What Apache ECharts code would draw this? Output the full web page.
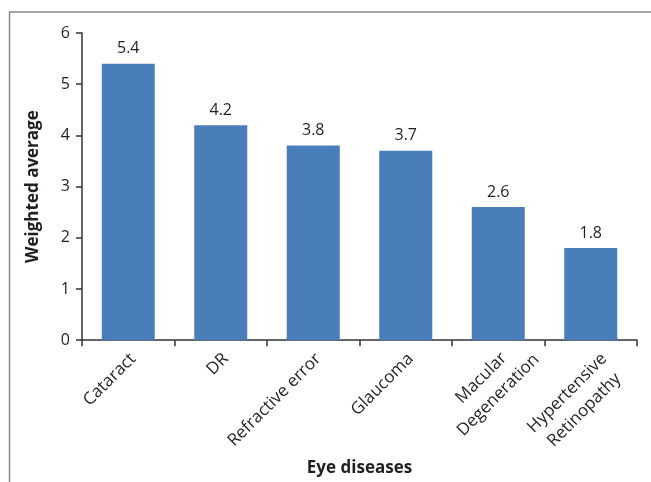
<!DOCTYPE html>
<html>
<head>
<meta charset="utf-8">
<script src="https://cdn.jsdelivr.net/npm/echarts@6/dist/echarts.min.js"></script>
<style>
  html, body { margin: 0; padding: 0; background: #fff; }
  #chart { width: 651px; height: 482px; }
</style>
</head>
<body>
<div id="chart"></div>
<script>
// Eye diseases ranked by weighted average
var categories = ['Cataract', 'DR', 'Refractive error', 'Glaucoma', 'Macular\nDegeneration', 'Hypertensive\nRetinopathy'];
var weightedAverage = [5.4, 4.2, 3.8, 3.7, 2.6, 1.8];
var yTicks = [0, 1, 2, 3, 4, 5, 6];

var textColor = '#231f20';
var fontFamily = '"Open Sans", "Noto Sans", sans-serif';

// Slanted labels hang from the end of their first line; two-line labels
// keep their lines centred on each other.
var labelPadding = {
  'Macular\nDegeneration': [0, -18, 0, 0],
  'Hypertensive\nRetinopathy': [6, -1, 0, 0]
};
var categoryItems = categories.map(function (name) {
  return {
    value: name,
    textStyle: {
      verticalAlign: 'top',
      padding: labelPadding[name] || [0, 5, 0, 0]
    }
  };
});

var chart = echarts.init(document.getElementById('chart'), null, { renderer: 'canvas' });

chart.setOption({
  animation: false,
  backgroundColor: '#ffffff',
  textStyle: { fontFamily: fontFamily },
  graphic: [{
    type: 'rect',
    shape: { x: 9.5, y: 12, width: 800, height: 600 },
    style: { fill: 'none', stroke: '#8a8a8a', lineWidth: 1.5 },
    silent: true
  }],
  grid: { left: 82, right: 14, top: 33, bottom: 141 },
  xAxis: {
    type: 'category',
    data: categoryItems,
    name: 'Eye diseases',
    nameLocation: 'middle',
    nameGap: 112,
    nameTextStyle: { fontSize: 17, fontWeight: 'bold', color: textColor, fontFamily: fontFamily },
    axisLine: { lineStyle: { color: '#333333', width: 1.5 } },
    axisTick: { show: true, length: 6, lineStyle: { color: '#333333', width: 1.5 } },
    axisLabel: {
      rotate: 45,
      interval: 0,
      margin: 4,
      verticalAlign: 'top',
      color: textColor,
      fontSize: 17,
      fontFamily: fontFamily,
      formatter: function (v) {
        return v.split('\n').map(function (s) { return '{c|' + s + '}'; }).join('\n');
      },
      rich: {
        c: { align: 'center', fontSize: 17, color: textColor, fontFamily: fontFamily, lineHeight: 24 }
      }
    }
  },
  yAxis: {
    type: 'value',
    min: yTicks[0],
    max: yTicks[yTicks.length - 1],
    interval: 1,
    name: 'Weighted average',
    nameLocation: 'middle',
    nameGap: 40,
    nameTextStyle: { fontSize: 17, fontWeight: 'bold', color: textColor, fontFamily: fontFamily },
    axisLine: { show: true, lineStyle: { color: '#333333', width: 1.5 } },
    axisTick: { show: true, length: 6, lineStyle: { color: '#333333', width: 1.5 } },
    splitLine: { show: false },
    axisLabel: { margin: 12, color: textColor, fontSize: 16, fontFamily: fontFamily }
  },
  series: [{
    type: 'bar',
    data: weightedAverage,
    barWidth: 53,
    itemStyle: { color: '#4a7ebb' },
    label: {
      show: true,
      position: 'top',
      distance: 7,
      color: textColor,
      fontSize: 16,
      fontFamily: fontFamily,
      formatter: function (p) { return p.value.toFixed(1); }
    }
  }]
});
</script>
</body>
</html>
